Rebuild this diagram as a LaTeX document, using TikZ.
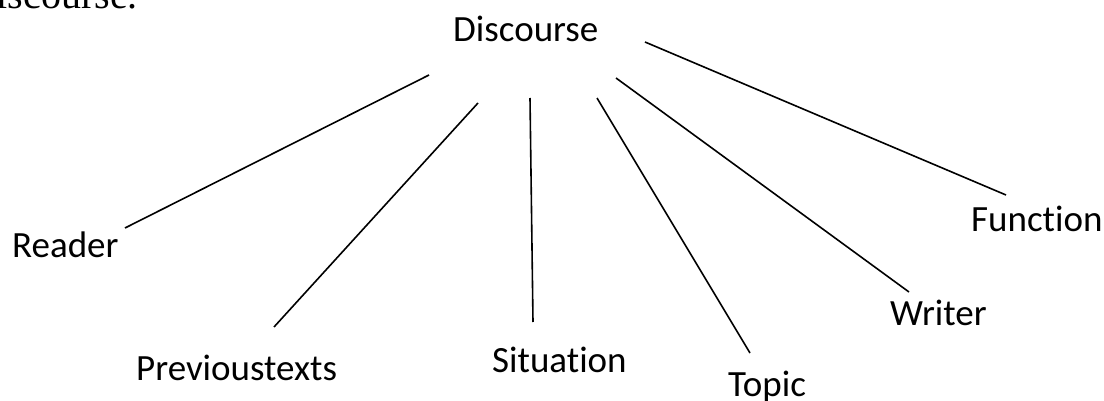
\documentclass[tikz,border=0pt]{standalone}
\usepackage{fontspec}
\setmainfont[Ligatures={NoCommon}]{Carlito}
\newfontfamily\serifcut{Liberation Serif}
\begin{document}
\begin{tikzpicture}[x=1pt,y=-1pt,
  label/.style={anchor=base west,inner sep=0pt,font=\fontsize{37}{44}\selectfont},
  link/.style={draw=black,line width=1.6pt}]
\useasboundingbox (0,0) rectangle (1104,401);
\clip (0,0) rectangle (1104,401);
% cut-off text at top left
\node[anchor=base east,inner sep=0pt,font=\serifcut\fontsize{40}{48}\selectfont] (cut) at (138,9) {iscourse.};
% labels
\node[label] (D) at (453,42) {Discourse};
\node[label] (R) at (12,257) {Reader};
\node[label] (P) at (136,380) {Previoustexts};
\node[label] (S) at (492,372) {Situation};
\node[label] (T) at (728,396) {Topic};
\node[label] (W) at (890,325) {Writer};
\node[label] (F) at (971,231) {Function};
% connector ends
\coordinate (dR) at (429,75);  \coordinate (eR) at (125,228);
\coordinate (dP) at (478,103); \coordinate (eP) at (274,327);
\coordinate (dS) at (530,98);  \coordinate (eS) at (533,322);
\coordinate (dT) at (597,98);  \coordinate (eT) at (750,353);
\coordinate (dW) at (616,78);  \coordinate (eW) at (909,292);
\coordinate (dF) at (645,42);  \coordinate (eF) at (1006,195);
\draw[link] (dR) -- (eR);
\draw[link] (dP) -- (eP);
\draw[link] (dS) -- (eS);
\draw[link] (dT) -- (eT);
\draw[link] (dW) -- (eW);
\draw[link] (dF) -- (eF);
\end{tikzpicture}
\end{document}
